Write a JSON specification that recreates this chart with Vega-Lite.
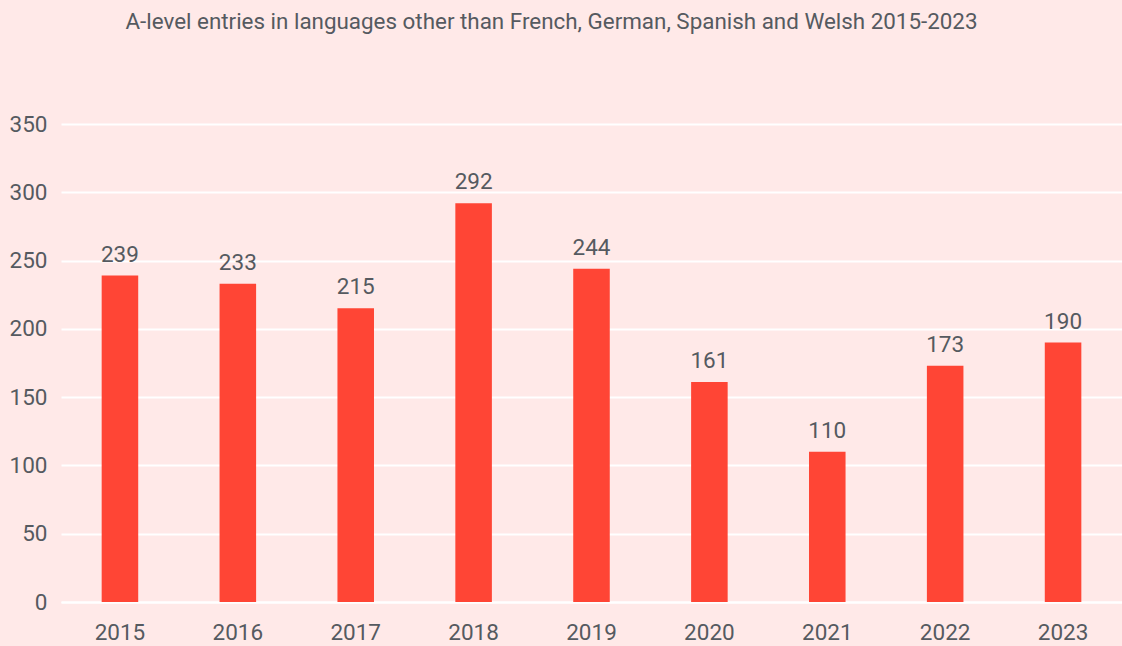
{
  "$schema": "https://vega.github.io/schema/vega-lite/v6.json",
  "width": 1061,
  "height": 478,
  "autosize": "none",
  "padding": {"left": 61, "top": 124, "right": 0, "bottom": 44},
  "background": "#FFE9E8",
  "title": {
    "text": "A-level entries in languages other than French, German, Spanish and Welsh 2015-2023",
    "font": "Roboto",
    "fontSize": 22.4,
    "fontWeight": "normal",
    "color": "#555A60",
    "anchor": "middle",
    "dx": -40,
    "offset": 80
  },
  "config": {
    "view": {"stroke": null},
    "font": "Roboto"
  },
  "data": {
    "values": [
      {"year": "2015", "entries": 239},
      {"year": "2016", "entries": 233},
      {"year": "2017", "entries": 215},
      {"year": "2018", "entries": 292},
      {"year": "2019", "entries": 244},
      {"year": "2020", "entries": 161},
      {"year": "2021", "entries": 110},
      {"year": "2022", "entries": 173},
      {"year": "2023", "entries": 190}
    ]
  },
  "encoding": {
    "x": {
      "field": "year",
      "type": "nominal",
      "scale": {"paddingInner": 0.69, "paddingOuter": 0.345},
      "axis": {
        "title": null,
        "labelAngle": 0,
        "labelFont": "Roboto",
        "labelFontSize": 22.5,
        "labelColor": "#555A60",
        "labelPadding": 19,
        "ticks": false,
        "domainColor": "#FFFFFF",
        "domainWidth": 2
      }
    },
    "y": {
      "field": "entries",
      "type": "quantitative",
      "scale": {"domain": [0, 350]},
      "axis": {
        "title": null,
        "values": [0, 50, 100, 150, 200, 250, 300, 350],
        "labelFont": "Roboto",
        "labelFontSize": 22.5,
        "labelColor": "#555A60",
        "labelPadding": 14,
        "ticks": false,
        "domain": false,
        "gridColor": "#FFFFFF",
        "gridWidth": 2,
        "gridOpacity": 1
      }
    }
  },
  "layer": [
    {"mark": {"type": "bar", "color": "#FF4535"}},
    {
      "mark": {"type": "text", "baseline": "alphabetic", "dy": -14, "font": "Roboto", "fontSize": 22.5, "color": "#555A60"},
      "encoding": {"text": {"field": "entries", "type": "quantitative"}}
    }
  ]
}
